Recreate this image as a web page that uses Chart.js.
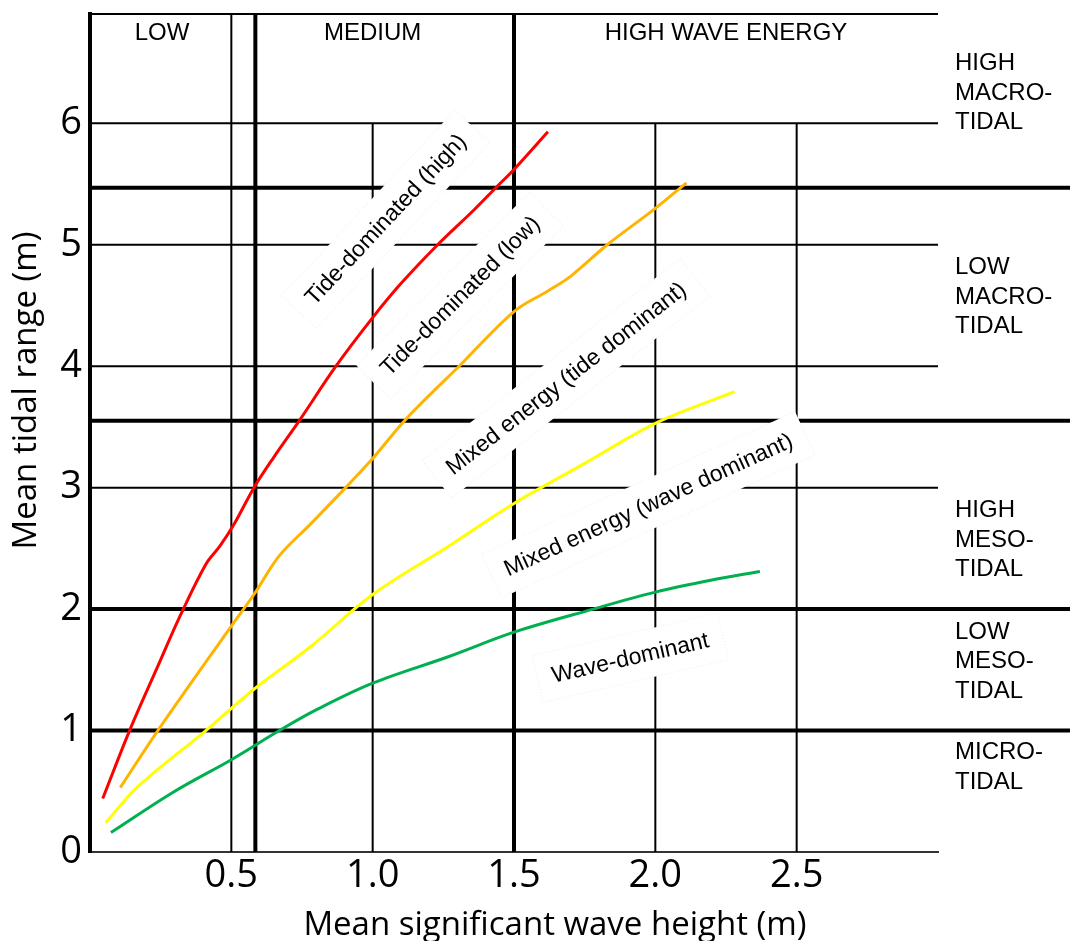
<!DOCTYPE html>
<html>
<head>
<meta charset="utf-8">
<script src="https://cdn.jsdelivr.net/npm/chart.js@4.4.1/dist/chart.umd.min.js"></script>
<style>
  html, body { margin: 0; padding: 0; background: #fff; }
  #chart { display: block; }
</style>
</head>
<body>
<canvas id="chart" width="1070" height="941"></canvas>
<script>
// Axis ticks
const xTicks = [0.5, 1.0, 1.5, 2.0, 2.5];
const yTicks = [0, 1, 2, 3, 4, 5, 6];

// Curves: mean significant wave height (m) vs mean tidal range (m)
const redX = [0.045, 0.14, 0.24, 0.32, 0.41, 0.46, 0.51, 0.58, 0.65, 0.74, 0.87, 1.0, 1.1, 1.23, 1.36, 1.44, 1.5, 1.62];
const redY = [0.44, 1.0, 1.53, 1.95, 2.37, 2.52, 2.7, 3.0, 3.25, 3.55, 4.0, 4.4, 4.68, 5.0, 5.29, 5.48, 5.62, 5.93];

const orangeX = [0.107, 0.24, 0.5, 0.58, 0.67, 0.78, 0.9, 1.0, 1.12, 1.31, 1.5, 1.62, 1.7, 1.83, 2.0, 2.11];
const orangeY = [0.53, 1.0, 1.86, 2.12, 2.44, 2.7, 2.99, 3.24, 3.57, 4.01, 4.45, 4.62, 4.74, 5.0, 5.3, 5.51];

const yellowX = [0.055, 0.17, 0.41, 0.58, 0.78, 1.0, 1.27, 1.5, 1.75, 2.0, 2.28];
const yellowY = [0.24, 0.54, 1.0, 1.34, 1.69, 2.12, 2.52, 2.87, 3.2, 3.53, 3.79];

const greenX = [0.074, 0.3, 0.5, 0.67, 0.8, 1.0, 1.27, 1.5, 1.78, 2.0, 2.2, 2.37];
const greenY = [0.16, 0.5, 0.76, 1.0, 1.17, 1.39, 1.61, 1.81, 2.0, 2.14, 2.24, 2.31];

// Curve labels (centre in data units, angle in degrees)
const curveLabels = ['Tide-dominated (high)', 'Tide-dominated (low)', 'Mixed energy (tide dominant)', 'Mixed energy (wave dominant)', 'Wave-dominant'];
const curveLabelX = [1.046, 1.309, 1.684, 1.975, 1.911];
const curveLabelY = [5.21, 4.58, 3.90, 2.86, 1.60];
const curveLabelAngle = [-47, -45, -38, -24.5, -13];

// Class boundaries and grid
const waveThin = [0.5];
const waveThick = [0.585, 1.5];
const waveLow = [1.0, 2.0, 2.5];      // these start at the 6 m line
const tideThin = [6, 5, 4, 3];
const tideThick = [5.47, 3.55, 2, 1];

// Class names
const energyLabels = ['LOW', 'MEDIUM', 'HIGH WAVE ENERGY'];
const energyLabelX = [0.255, 1.0, 2.25];
const tideLabels = [
  ['HIGH', 'MACRO-', 'TIDAL'],
  ['LOW', 'MACRO-', 'TIDAL'],
  ['HIGH', 'MESO-', 'TIDAL'],
  ['LOW', 'MESO-', 'TIDAL'],
  ['MICRO-', 'TIDAL']
];
const tideLabelY = [6.49, 4.81, 2.81, 1.81, 0.82];

const toPoints = (xs, ys) => xs.map((v, i) => ({x: v, y: ys[i]}));

const ARIAL = '"Liberation Sans", Arial, sans-serif';
const SANS = '"Open Sans", "Noto Sans", sans-serif';

// Draws the grid, class boundaries and boxed curve labels
const overlay = {
  id: 'overlay',
  beforeDatasetsDraw(chart) {
    const {ctx, scales: {x, y}} = chart;
    const left = x.getPixelForValue(0);
    const right = x.getPixelForValue(3);
    const top = y.getPixelForValue(y.max);
    const bottom = y.getPixelForValue(0);

    ctx.save();
    ctx.strokeStyle = '#000';
    const line = (x1, y1, x2, y2, w) => {
      ctx.lineWidth = w;
      ctx.beginPath();
      ctx.moveTo(x1, y1);
      ctx.lineTo(x2, y2);
      ctx.stroke();
    };

    line(left, top, right, top, 2);
    tideThin.forEach(v => {
      const py = y.getPixelForValue(v);
      line(left, py, right, py, 2);
    });
    tideThick.forEach(v => {
      const py = y.getPixelForValue(v);
      line(left, py, chart.width, py, 4);
    });
    waveThin.forEach(v => {
      const px = x.getPixelForValue(v);
      line(px, top, px, bottom, 2);
    });
    waveThick.forEach(v => {
      const px = x.getPixelForValue(v);
      line(px, top, px, bottom, 4);
    });
    waveLow.forEach(v => {
      const px = x.getPixelForValue(v);
      line(px, y.getPixelForValue(6), px, bottom, 2);
    });

    // White boxes with rotated labels
    ctx.font = '23px ' + ARIAL;
    ctx.textAlign = 'center';
    ctx.textBaseline = 'middle';
    curveLabels.forEach((txt, i) => {
      const cx = x.getPixelForValue(curveLabelX[i]);
      const cy = y.getPixelForValue(curveLabelY[i]);
      const w = ctx.measureText(txt).width + 30;
      const h = 48;
      ctx.save();
      ctx.translate(cx, cy);
      ctx.rotate(curveLabelAngle[i] * Math.PI / 180);
      ctx.fillStyle = '#fff';
      ctx.fillRect(-w / 2, -h / 2, w, h);
      ctx.strokeStyle = 'rgba(0,0,0,0.07)';
      ctx.lineWidth = 1;
      ctx.setLineDash([1, 2]);
      ctx.strokeRect(-w / 2, -h / 2, w, h);
      ctx.fillStyle = '#000';
      ctx.fillText(txt, 0, 1);
      ctx.restore();
    });
    ctx.restore();
  },
  afterDraw(chart) {
    const {ctx, chartArea, scales: {x, y}} = chart;
    ctx.save();
    ctx.fillStyle = '#000';

    // Wave energy classes along the top
    ctx.font = '24px ' + ARIAL;
    ctx.textAlign = 'center';
    ctx.textBaseline = 'middle';
    energyLabels.forEach((txt, i) => {
      ctx.fillText(txt, x.getPixelForValue(energyLabelX[i]), y.getPixelForValue(6.74));
    });

    // Tidal classes on the right
    ctx.textAlign = 'left';
    tideLabels.forEach((lines, i) => {
      const y0 = y.getPixelForValue(tideLabelY[i]);
      lines.forEach((txt, j) => {
        ctx.fillText(txt, chartArea.right + 17, y0 + j * 29.5);
      });
    });

    // Axis titles
    ctx.font = '33px ' + SANS;
    ctx.textBaseline = 'alphabetic';
    ctx.textAlign = 'center';
    ctx.fillText('Mean significant wave height (m)', x.getPixelForValue(1.645), chart.height - 6);
    ctx.save();
    ctx.translate(chartArea.left - 54, y.getPixelForValue(3.8));
    ctx.rotate(-Math.PI / 2);
    ctx.fillText('Mean tidal range (m)', 0, 0);
    ctx.restore();

    ctx.restore();
  }
};

const lineSet = (xs, ys, color) => ({
  data: toPoints(xs, ys),
  showLine: true,
  borderColor: color,
  backgroundColor: color,
  borderWidth: 3,
  pointRadius: 0,
  tension: 0.35,
  fill: false
});

new Chart(document.getElementById('chart'), {
  type: 'scatter',
  data: {
    datasets: [
      lineSet(redX, redY, '#ff0000'),
      lineSet(orangeX, orangeY, '#ffb400'),
      lineSet(yellowX, yellowY, '#ffff00'),
      lineSet(greenX, greenY, '#00b050')
    ]
  },
  options: {
    responsive: false,
    devicePixelRatio: 1,
    animation: false,
    layout: { padding: { top: 14, right: 132, left: 0, bottom: 0 } },
    plugins: {
      legend: { display: false },
      tooltip: { enabled: false }
    },
    scales: {
      x: {
        type: 'linear',
        min: 0,
        max: 3,
        afterBuildTicks: axis => { axis.ticks = xTicks.map(v => ({value: v})); },
        afterFit: axis => {
          axis.height = 89;
          axis.paddingLeft = 0;
          axis.paddingRight = 0;
        },
        grid: { display: false, drawTicks: false },
        border: { display: true, color: '#333', width: 2 },
        ticks: {
          padding: 1,
          color: '#000',
          font: { family: SANS, size: 38 },
          maxRotation: 0,
          callback: v => v.toFixed(1)
        }
      },
      y: {
        type: 'linear',
        min: 0,
        max: 6.9,
        afterBuildTicks: axis => { axis.ticks = yTicks.map(v => ({value: v})); },
        afterFit: axis => {
          axis.width = 90;
          axis.paddingTop = 0;
          axis.paddingBottom = 0;
        },
        grid: { display: false, drawTicks: false },
        border: { display: true, color: '#000', width: 4 },
        ticks: {
          padding: 8,
          color: '#000',
          font: { family: SANS, size: 38 },
          callback: v => String(v)
        }
      }
    }
  },
  plugins: [overlay]
});
</script>
</body>
</html>
